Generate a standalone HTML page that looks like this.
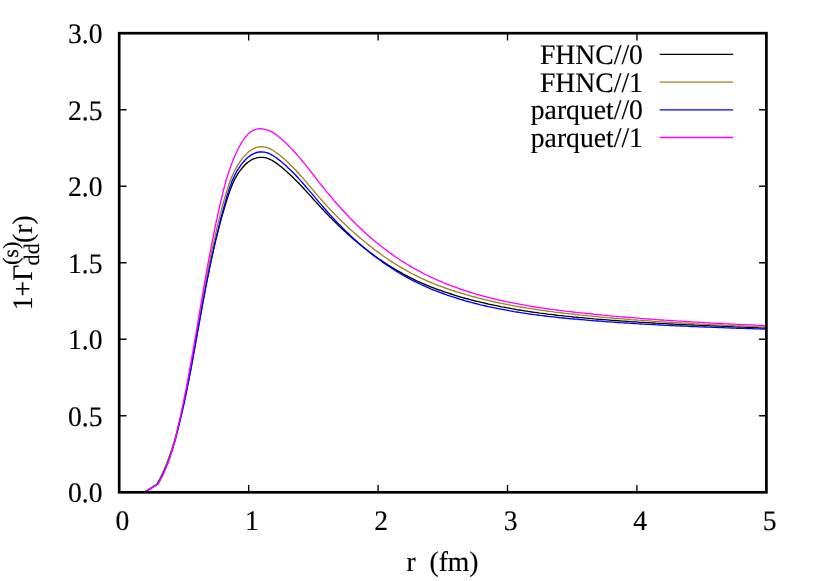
<!DOCTYPE html>
<html><head><meta charset="utf-8"><title>plot</title>
<style>html,body{margin:0;padding:0;background:#fff;overflow:hidden;}svg{display:block;text-rendering:geometricPrecision;will-change:transform;}text{font-family:"Liberation Serif", serif;font-size:27.67px;fill:#000;stroke:#000;stroke-width:0.15px;}</style></head><body>
<svg width="830" height="581" viewBox="0 0 830 581">
<rect x="0" y="0" width="830" height="581" fill="#ffffff"/>
<path d="M119.20,492.30v-7.3M119.20,33.20v7.3M248.64,492.30v-7.3M248.64,33.20v7.3M378.08,492.30v-7.3M378.08,33.20v7.3M507.52,492.30v-7.3M507.52,33.20v7.3M636.96,492.30v-7.3M636.96,33.20v7.3M766.40,492.30v-7.3M766.40,33.20v7.3M119.20,492.30h7.3M766.40,492.30h-7.3M119.20,415.78h7.3M766.40,415.78h-7.3M119.20,339.27h7.3M766.40,339.27h-7.3M119.20,262.75h7.3M766.40,262.75h-7.3M119.20,186.23h7.3M766.40,186.23h-7.3M119.20,109.72h7.3M766.40,109.72h-7.3M119.20,33.20h7.3M766.40,33.20h-7.3" stroke="#000" stroke-width="1.35" fill="none"/>
<text transform="translate(102.60,502.20) scale(1,1.022)" text-anchor="end">0.0</text>
<text transform="translate(102.60,425.68) scale(1,1.022)" text-anchor="end">0.5</text>
<text transform="translate(102.60,349.17) scale(1,1.022)" text-anchor="end">1.0</text>
<text transform="translate(102.60,272.65) scale(1,1.022)" text-anchor="end">1.5</text>
<text transform="translate(102.60,196.13) scale(1,1.022)" text-anchor="end">2.0</text>
<text transform="translate(102.60,119.62) scale(1,1.022)" text-anchor="end">2.5</text>
<text transform="translate(102.60,43.10) scale(1,1.022)" text-anchor="end">3.0</text>
<text transform="translate(122.35,529.90) scale(1,1.022)" text-anchor="middle">0</text>
<text transform="translate(251.79,529.90) scale(1,1.022)" text-anchor="middle">1</text>
<text transform="translate(381.23,529.90) scale(1,1.022)" text-anchor="middle">2</text>
<text transform="translate(510.67,529.90) scale(1,1.022)" text-anchor="middle">3</text>
<text transform="translate(640.11,529.90) scale(1,1.022)" text-anchor="middle">4</text>
<text transform="translate(769.55,529.90) scale(1,1.022)" text-anchor="middle">5</text>
<polyline points="145.1,491.8 157.1,484.2 158.3,481.9 159.6,479.6 160.7,477.3 161.9,475.0 163.0,472.6 164.0,470.2 165.1,467.9 166.1,465.5 167.0,463.1 168.0,460.6 168.9,458.2 169.7,455.8 170.6,453.3 171.4,450.9 172.2,448.4 173.0,445.9 173.7,443.4 174.5,440.9 175.2,438.5 175.9,435.9 176.6,433.4 177.2,430.9 177.9,428.4 178.5,425.9 179.2,423.4 179.8,420.8 180.4,418.3 181.0,415.8 181.6,413.3 182.2,410.7 182.7,408.2 183.3,405.7 183.9,403.1 184.4,400.6 185.0,398.1 185.5,395.5 186.0,393.0 186.6,390.4 187.1,387.9 187.6,385.4 188.1,382.8 188.6,380.3 189.1,377.7 189.6,375.2 190.1,372.6 190.6,370.1 191.0,367.5 191.5,365.0 192.0,362.4 192.4,359.9 192.9,357.3 193.4,354.8 193.8,352.2 194.3,349.7 194.7,347.1 195.2,344.5 195.6,342.0 196.1,339.4 196.5,336.9 197.0,334.3 197.4,331.8 197.9,329.2 198.3,326.7 198.8,324.1 199.3,321.5 199.7,319.0 200.2,316.4 200.6,313.9 201.1,311.3 201.5,308.8 202.0,306.2 202.5,303.7 202.9,301.1 203.4,298.5 203.9,296.0 204.4,293.4 204.8,290.9 205.3,288.3 205.8,285.8 206.3,283.2 206.8,280.7 207.3,278.1 207.8,275.6 208.4,273.0 208.9,270.5 209.4,268.0 210.0,265.4 210.5,262.9 211.1,260.3 211.6,257.8 212.2,255.3 212.8,252.7 213.3,250.2 213.9,247.7 214.5,245.1 215.1,242.6 215.7,240.1 216.4,237.6 217.0,235.1 217.6,232.5 218.3,230.0 218.9,227.5 219.6,225.0 220.3,222.5 220.9,220.0 221.6,217.5 222.3,215.0 223.1,212.5 223.8,210.0 224.5,207.5 225.3,205.1 226.0,202.6 226.8,200.1 227.6,197.6 228.4,195.2 229.2,192.7 230.0,190.3 231.0,187.9 231.9,185.5 232.9,183.1 234.0,180.8 235.2,178.4 236.5,176.2 237.8,173.9 239.3,171.7 240.9,169.6 242.6,167.5 244.4,165.5 246.3,163.6 248.3,162.0 250.5,160.5 252.7,159.2 255.1,158.3 257.5,157.6 260.1,157.3 262.7,157.3 265.2,157.7 267.6,158.4 270.0,159.4 272.3,160.5 274.5,161.9 276.7,163.4 278.8,165.0 280.9,166.6 282.9,168.3 284.9,170.0 286.9,171.7 288.8,173.5 290.7,175.2 292.6,177.0 294.4,178.9 296.3,180.7 298.1,182.6 299.9,184.4 301.6,186.3 303.4,188.2 305.2,190.1 306.9,192.0 308.6,193.9 310.4,195.9 312.1,197.8 313.8,199.7 315.6,201.6 317.3,203.5 319.0,205.4 320.8,207.4 322.6,209.3 324.3,211.1 326.1,213.0 327.9,214.9 329.7,216.8 331.6,218.6 333.4,220.5 335.3,222.3 337.1,224.1 339.0,225.9 340.9,227.7 342.8,229.5 344.7,231.3 346.6,233.0 348.5,234.8 350.5,236.5 352.4,238.2 354.4,239.9 356.4,241.6 358.4,243.3 360.4,244.9 362.4,246.5 364.4,248.2 366.5,249.8 368.5,251.3 370.6,252.9 372.7,254.4 374.8,256.0 376.9,257.5 379.0,259.0 381.2,260.4 383.3,261.9 385.5,263.3 387.7,264.7 389.9,266.1 392.1,267.5 394.3,268.8 396.5,270.1 398.7,271.4 401.0,272.7 403.3,274.0 405.5,275.2 407.8,276.4 410.1,277.6 412.5,278.7 414.8,279.9 417.1,281.0 419.5,282.1 421.9,283.1 424.2,284.1 426.6,285.2 429.0,286.1 431.4,287.1 433.9,288.0 436.3,289.0 438.7,289.9 441.2,290.7 443.7,291.6 446.1,292.4 448.6,293.2 451.1,294.0 453.6,294.8 456.1,295.6 458.5,296.3 461.0,297.1 463.5,297.8 466.0,298.5 468.6,299.1 471.1,299.8 473.6,300.5 476.1,301.1 478.6,301.7 481.1,302.3 483.7,302.9 486.2,303.5 488.7,304.1 491.3,304.6 493.8,305.2 496.3,305.7 498.9,306.2 501.4,306.8 504.0,307.2 506.5,307.7 509.1,308.2 511.6,308.7 514.2,309.1 516.7,309.6 519.3,310.0 521.8,310.4 524.4,310.8 527.0,311.2 529.5,311.6 532.1,312.0 534.7,312.3 537.2,312.7 539.8,313.1 542.4,313.4 544.9,313.7 547.5,314.1 550.1,314.4 552.7,314.7 555.3,315.0 557.8,315.3 560.4,315.6 563.0,315.9 565.6,316.2 568.2,316.4 570.7,316.7 573.3,317.0 575.9,317.2 578.5,317.5 581.1,317.7 583.7,317.9 586.3,318.2 588.8,318.4 591.4,318.6 594.0,318.9 596.6,319.1 599.2,319.3 601.8,319.5 604.4,319.7 607.0,319.9 609.6,320.1 612.1,320.3 614.7,320.5 617.3,320.7 619.9,320.9 622.5,321.1 625.1,321.2 627.7,321.4 630.3,321.6 632.9,321.8 635.4,321.9 638.0,322.1 640.6,322.3 643.2,322.4 645.8,322.6 648.4,322.7 651.0,322.9 653.6,323.0 656.2,323.2 658.8,323.3 661.4,323.5 664.0,323.6 666.5,323.7 669.1,323.9 671.7,324.0 674.3,324.1 676.9,324.3 679.5,324.4 682.1,324.5 684.7,324.6 687.3,324.8 689.9,324.9 692.5,325.0 695.1,325.1 697.7,325.2 700.3,325.4 702.8,325.5 705.4,325.6 708.0,325.7 710.6,325.8 713.2,325.9 715.8,326.0 718.4,326.1 721.0,326.2 723.6,326.3 726.2,326.4 728.8,326.6 731.4,326.7 734.0,326.8 736.6,326.9 739.2,327.0 741.8,327.1 744.3,327.2 746.9,327.3 749.5,327.4 752.1,327.5 754.7,327.6 757.3,327.7 759.9,327.8 762.5,327.9 765.1,328.0 766.4,328.0" fill="none" stroke="#000000" stroke-width="1.35" stroke-linejoin="round"/>
<polyline points="145.1,491.8 157.1,484.2 158.4,481.9 159.6,479.5 160.8,477.2 161.9,474.8 163.0,472.4 164.1,470.0 165.1,467.6 166.1,465.1 167.1,462.7 168.0,460.2 168.9,457.8 169.8,455.3 170.7,452.8 171.5,450.3 172.3,447.8 173.1,445.3 173.8,442.7 174.6,440.2 175.3,437.7 176.0,435.1 176.7,432.6 177.3,430.0 178.0,427.5 178.6,424.9 179.3,422.3 179.9,419.8 180.5,417.2 181.1,414.6 181.7,412.1 182.3,409.5 182.9,406.9 183.4,404.3 184.0,401.8 184.6,399.2 185.1,396.6 185.6,394.0 186.2,391.5 186.7,388.9 187.2,386.3 187.7,383.7 188.2,381.1 188.7,378.5 189.2,376.0 189.7,373.4 190.2,370.8 190.7,368.2 191.2,365.6 191.7,363.0 192.1,360.4 192.6,357.8 193.1,355.2 193.5,352.6 194.0,350.0 194.4,347.4 194.9,344.8 195.3,342.2 195.8,339.6 196.2,337.0 196.7,334.5 197.1,331.9 197.6,329.3 198.0,326.7 198.5,324.1 198.9,321.5 199.3,318.9 199.8,316.3 200.2,313.7 200.7,311.1 201.1,308.5 201.6,305.9 202.0,303.3 202.5,300.7 202.9,298.1 203.4,295.5 203.8,292.9 204.3,290.3 204.8,287.7 205.3,285.1 205.7,282.5 206.2,279.9 206.7,277.3 207.2,274.7 207.7,272.1 208.2,269.5 208.7,266.9 209.2,264.3 209.7,261.7 210.2,259.1 210.7,256.6 211.3,254.0 211.8,251.4 212.3,248.8 212.9,246.2 213.4,243.7 214.0,241.1 214.6,238.5 215.1,235.9 215.7,233.4 216.3,230.8 216.9,228.2 217.5,225.7 218.1,223.1 218.8,220.5 219.4,218.0 220.0,215.4 220.7,212.9 221.3,210.3 222.0,207.8 222.7,205.3 223.4,202.7 224.1,200.2 224.8,197.7 225.5,195.2 226.2,192.6 227.0,190.1 227.8,187.6 228.6,185.1 229.5,182.7 230.4,180.2 231.4,177.8 232.5,175.4 233.6,173.0 234.8,170.6 236.0,168.2 237.4,165.9 238.8,163.6 240.3,161.3 241.9,159.1 243.7,156.9 245.5,154.9 247.4,152.9 249.4,151.2 251.6,149.7 253.8,148.5 256.1,147.6 258.5,146.9 261.0,146.7 263.5,146.8 266.0,147.4 268.4,148.2 270.8,149.2 273.1,150.5 275.4,152.0 277.6,153.6 279.8,155.3 281.9,157.0 283.9,158.7 285.9,160.5 287.9,162.3 289.8,164.2 291.7,166.0 293.6,167.9 295.4,169.8 297.2,171.7 299.0,173.7 300.7,175.6 302.5,177.6 304.2,179.6 305.9,181.6 307.6,183.6 309.3,185.6 311.0,187.6 312.6,189.6 314.3,191.6 316.0,193.6 317.7,195.6 319.4,197.6 321.2,199.5 322.9,201.5 324.7,203.5 326.4,205.4 328.2,207.4 330.0,209.3 331.8,211.2 333.7,213.1 335.5,215.0 337.4,216.9 339.2,218.8 341.1,220.6 343.0,222.5 344.9,224.3 346.8,226.1 348.8,227.9 350.7,229.7 352.7,231.5 354.7,233.2 356.7,235.0 358.7,236.7 360.7,238.4 362.7,240.1 364.7,241.8 366.8,243.5 368.8,245.1 370.9,246.8 373.0,248.4 375.1,250.0 377.2,251.6 379.3,253.1 381.5,254.7 383.6,256.2 385.8,257.7 388.0,259.2 390.1,260.6 392.3,262.1 394.6,263.5 396.8,264.9 399.0,266.3 401.3,267.6 403.6,268.9 405.8,270.2 408.1,271.5 410.4,272.8 412.8,274.0 415.1,275.2 417.5,276.4 419.8,277.5 422.2,278.6 424.6,279.7 427.0,280.8 429.5,281.8 431.9,282.9 434.3,283.9 436.8,284.8 439.3,285.8 441.7,286.7 444.2,287.6 446.7,288.5 449.2,289.3 451.7,290.2 454.2,291.0 456.8,291.8 459.3,292.6 461.8,293.4 464.4,294.1 466.9,294.9 469.4,295.6 472.0,296.3 474.5,297.0 477.1,297.7 479.6,298.3 482.2,299.0 484.7,299.6 487.3,300.2 489.9,300.8 492.4,301.4 495.0,302.0 497.6,302.5 500.1,303.1 502.7,303.6 505.3,304.1 507.9,304.7 510.5,305.2 513.1,305.6 515.6,306.1 518.2,306.6 520.8,307.0 523.4,307.5 526.0,307.9 528.6,308.3 531.2,308.7 533.8,309.1 536.4,309.5 539.0,309.9 541.7,310.3 544.3,310.7 546.9,311.0 549.5,311.4 552.1,311.7 554.7,312.1 557.3,312.4 560.0,312.7 562.6,313.0 565.2,313.3 567.8,313.6 570.4,313.9 573.1,314.2 575.7,314.5 578.3,314.8 580.9,315.1 583.6,315.3 586.2,315.6 588.8,315.9 591.4,316.1 594.1,316.4 596.7,316.6 599.3,316.9 601.9,317.1 604.6,317.3 607.2,317.6 609.8,317.8 612.4,318.0 615.1,318.3 617.7,318.5 620.3,318.7 623.0,318.9 625.6,319.1 628.2,319.3 630.8,319.6 633.5,319.8 636.1,320.0 638.7,320.2 641.4,320.3 644.0,320.5 646.6,320.7 649.2,320.9 651.9,321.1 654.5,321.3 657.1,321.5 659.8,321.6 662.4,321.8 665.0,322.0 667.7,322.1 670.3,322.3 672.9,322.5 675.5,322.6 678.2,322.8 680.8,322.9 683.4,323.1 686.1,323.2 688.7,323.4 691.3,323.5 694.0,323.7 696.6,323.8 699.2,324.0 701.9,324.1 704.5,324.2 707.1,324.4 709.8,324.5 712.4,324.6 715.0,324.8 717.7,324.9 720.3,325.0 722.9,325.1 725.6,325.3 728.2,325.4 730.8,325.5 733.5,325.6 736.1,325.8 738.7,325.9 741.4,326.0 744.0,326.1 746.6,326.2 749.3,326.3 751.9,326.4 754.5,326.5 757.2,326.7 759.8,326.8 762.4,326.9 765.1,327.0 766.4,327.0" fill="none" stroke="#a08020" stroke-width="1.35" stroke-linejoin="round"/>
<polyline points="145.1,491.8 157.6,484.2 158.9,481.9 160.2,479.6 161.4,477.3 162.5,474.9 163.7,472.5 164.7,470.2 165.8,467.8 166.8,465.3 167.8,462.9 168.7,460.5 169.6,458.0 170.5,455.5 171.3,453.1 172.1,450.6 172.9,448.1 173.6,445.6 174.4,443.0 175.1,440.5 175.8,438.0 176.5,435.4 177.1,432.9 177.8,430.3 178.4,427.8 179.0,425.2 179.6,422.7 180.2,420.1 180.8,417.6 181.4,415.0 182.0,412.4 182.6,409.9 183.1,407.3 183.7,404.8 184.3,402.2 184.8,399.6 185.3,397.1 185.9,394.5 186.4,391.9 186.9,389.4 187.5,386.8 188.0,384.2 188.5,381.6 189.0,379.1 189.5,376.5 190.0,373.9 190.5,371.4 191.0,368.8 191.4,366.2 191.9,363.6 192.4,361.1 192.9,358.5 193.3,355.9 193.8,353.3 194.3,350.7 194.8,348.2 195.2,345.6 195.7,343.0 196.1,340.4 196.6,337.8 197.1,335.3 197.5,332.7 198.0,330.1 198.5,327.5 198.9,324.9 199.4,322.4 199.8,319.8 200.3,317.2 200.8,314.6 201.2,312.0 201.7,309.5 202.2,306.9 202.6,304.3 203.1,301.7 203.6,299.1 204.1,296.5 204.6,294.0 205.1,291.4 205.5,288.8 206.0,286.2 206.5,283.6 207.0,281.1 207.5,278.5 208.1,275.9 208.6,273.3 209.1,270.7 209.6,268.2 210.1,265.6 210.7,263.0 211.2,260.4 211.8,257.9 212.3,255.3 212.9,252.7 213.4,250.2 214.0,247.6 214.6,245.0 215.2,242.5 215.7,239.9 216.3,237.4 216.9,234.8 217.5,232.3 218.2,229.7 218.8,227.2 219.4,224.6 220.0,222.1 220.7,219.5 221.3,217.0 222.0,214.5 222.6,211.9 223.3,209.4 224.0,206.9 224.7,204.4 225.4,201.9 226.1,199.4 226.8,196.8 227.5,194.4 228.3,191.9 229.0,189.4 229.9,186.9 230.8,184.5 231.7,182.0 232.7,179.6 233.8,177.2 234.9,174.9 236.2,172.5 237.5,170.2 239.0,167.9 240.5,165.6 242.2,163.4 244.0,161.3 245.8,159.3 247.8,157.5 249.9,155.9 252.1,154.4 254.4,153.3 256.7,152.5 259.2,152.0 261.7,151.8 264.2,152.1 266.6,152.7 269.0,153.5 271.3,154.7 273.6,156.0 275.9,157.5 278.0,159.1 280.2,160.8 282.2,162.5 284.3,164.3 286.3,166.1 288.2,167.9 290.1,169.7 292.0,171.5 293.9,173.4 295.7,175.3 297.5,177.2 299.2,179.1 301.0,181.1 302.7,183.0 304.4,185.0 306.1,187.0 307.8,188.9 309.5,190.9 311.2,192.9 312.9,194.9 314.5,196.9 316.2,198.9 317.9,200.9 319.6,202.9 321.3,204.9 323.0,206.8 324.8,208.8 326.5,210.8 328.2,212.7 330.0,214.7 331.8,216.6 333.6,218.5 335.4,220.5 337.2,222.4 339.0,224.3 340.9,226.1 342.7,228.0 344.6,229.9 346.5,231.7 348.4,233.5 350.3,235.4 352.2,237.2 354.1,239.0 356.1,240.7 358.0,242.5 360.0,244.2 362.0,245.9 364.0,247.6 366.0,249.3 368.0,251.0 370.1,252.6 372.1,254.2 374.2,255.9 376.3,257.4 378.4,259.0 380.5,260.5 382.7,262.1 384.8,263.6 387.0,265.1 389.1,266.5 391.3,268.0 393.5,269.4 395.7,270.8 398.0,272.1 400.2,273.5 402.5,274.8 404.7,276.1 407.0,277.4 409.3,278.6 411.6,279.9 414.0,281.1 416.3,282.2 418.7,283.4 421.0,284.5 423.4,285.6 425.8,286.7 428.2,287.7 430.6,288.8 433.1,289.8 435.5,290.7 438.0,291.7 440.4,292.6 442.9,293.5 445.4,294.4 447.8,295.3 450.3,296.1 452.8,296.9 455.3,297.7 457.9,298.5 460.4,299.3 462.9,300.0 465.4,300.8 467.9,301.5 470.5,302.2 473.0,302.8 475.5,303.5 478.1,304.1 480.6,304.8 483.2,305.4 485.7,306.0 488.3,306.6 490.8,307.1 493.4,307.7 496.0,308.2 498.5,308.7 501.1,309.2 503.7,309.7 506.3,310.2 508.8,310.7 511.4,311.1 514.0,311.6 516.6,312.0 519.2,312.4 521.8,312.8 524.3,313.2 526.9,313.6 529.5,314.0 532.1,314.3 534.7,314.7 537.3,315.0 539.9,315.4 542.5,315.7 545.1,316.0 547.7,316.3 550.4,316.6 553.0,316.9 555.6,317.2 558.2,317.5 560.8,317.8 563.4,318.0 566.0,318.3 568.6,318.5 571.2,318.8 573.9,319.0 576.5,319.2 579.1,319.5 581.7,319.7 584.3,319.9 586.9,320.1 589.6,320.4 592.2,320.6 594.8,320.8 597.4,321.0 600.0,321.2 602.7,321.4 605.3,321.6 607.9,321.8 610.5,321.9 613.1,322.1 615.7,322.3 618.4,322.5 621.0,322.7 623.6,322.8 626.2,323.0 628.8,323.2 631.4,323.3 634.1,323.5 636.7,323.7 639.3,323.8 641.9,324.0 644.5,324.1 647.2,324.3 649.8,324.4 652.4,324.6 655.0,324.7 657.6,324.8 660.2,325.0 662.9,325.1 665.5,325.3 668.1,325.4 670.7,325.5 673.3,325.6 676.0,325.8 678.6,325.9 681.2,326.0 683.8,326.1 686.4,326.2 689.1,326.4 691.7,326.5 694.3,326.6 696.9,326.7 699.5,326.8 702.2,326.9 704.8,327.0 707.4,327.1 710.0,327.2 712.6,327.3 715.3,327.4 717.9,327.5 720.5,327.6 723.1,327.7 725.7,327.8 728.4,327.9 731.0,328.0 733.6,328.1 736.2,328.2 738.9,328.2 741.5,328.3 744.1,328.4 746.7,328.5 749.4,328.6 752.0,328.7 754.6,328.8 757.2,328.8 759.8,328.9 762.5,329.0 765.1,329.1 766.4,329.1" fill="none" stroke="#0000ff" stroke-width="1.35" stroke-linejoin="round"/>
<polyline points="145.1,491.8 158.0,484.2 159.4,481.8 160.6,479.4 161.9,477.0 163.1,474.6 164.2,472.1 165.3,469.6 166.3,467.1 167.3,464.6 168.3,462.1 169.2,459.6 170.1,457.0 170.9,454.4 171.7,451.8 172.5,449.3 173.2,446.7 173.9,444.0 174.6,441.4 175.3,438.8 176.0,436.1 176.6,433.5 177.2,430.9 177.8,428.2 178.4,425.6 179.0,422.9 179.6,420.3 180.2,417.6 180.8,414.9 181.3,412.3 181.9,409.6 182.4,407.0 183.0,404.3 183.5,401.7 184.1,399.0 184.6,396.3 185.1,393.7 185.6,391.0 186.2,388.4 186.7,385.7 187.2,383.0 187.7,380.4 188.2,377.7 188.7,375.0 189.1,372.4 189.6,369.7 190.1,367.0 190.6,364.4 191.1,361.7 191.5,359.0 192.0,356.4 192.5,353.7 193.0,351.0 193.4,348.4 193.9,345.7 194.3,343.0 194.8,340.4 195.3,337.7 195.7,335.0 196.2,332.3 196.6,329.7 197.1,327.0 197.5,324.3 198.0,321.7 198.4,319.0 198.9,316.3 199.3,313.6 199.8,311.0 200.2,308.3 200.7,305.6 201.2,303.0 201.6,300.3 202.1,297.6 202.5,294.9 203.0,292.3 203.4,289.6 203.9,286.9 204.4,284.2 204.8,281.6 205.3,278.9 205.8,276.2 206.3,273.5 206.7,270.9 207.2,268.2 207.7,265.5 208.2,262.9 208.7,260.2 209.2,257.5 209.7,254.8 210.2,252.2 210.7,249.5 211.2,246.8 211.7,244.2 212.2,241.5 212.8,238.9 213.3,236.2 213.8,233.5 214.4,230.9 214.9,228.2 215.5,225.6 216.0,222.9 216.6,220.3 217.2,217.6 217.7,215.0 218.3,212.3 218.9,209.7 219.5,207.1 220.1,204.4 220.7,201.8 221.3,199.2 222.0,196.5 222.6,193.9 223.2,191.3 223.9,188.7 224.6,186.1 225.3,183.4 226.0,180.8 226.8,178.3 227.5,175.7 228.4,173.1 229.2,170.5 230.1,168.0 231.0,165.4 232.0,162.9 233.0,160.3 234.0,157.8 235.1,155.3 236.3,152.8 237.5,150.3 238.8,147.8 240.1,145.3 241.5,142.9 243.0,140.5 244.5,138.2 246.2,136.1 248.0,134.1 250.0,132.4 252.1,131.0 254.4,129.8 256.9,129.1 259.6,128.7 262.5,128.8 265.2,129.3 267.8,130.1 270.3,131.1 272.7,132.4 275.0,133.9 277.2,135.5 279.3,137.2 281.4,139.0 283.4,140.8 285.4,142.6 287.4,144.5 289.3,146.4 291.2,148.4 293.0,150.3 294.9,152.3 296.7,154.3 298.4,156.4 300.2,158.4 301.9,160.5 303.6,162.6 305.3,164.7 307.0,166.8 308.7,168.9 310.4,171.1 312.1,173.2 313.7,175.3 315.4,177.5 317.1,179.6 318.7,181.8 320.4,183.9 322.1,186.0 323.8,188.1 325.5,190.3 327.2,192.4 329.0,194.5 330.7,196.5 332.5,198.6 334.2,200.7 336.0,202.7 337.8,204.8 339.6,206.8 341.4,208.8 343.3,210.8 345.1,212.8 347.0,214.8 348.8,216.8 350.7,218.7 352.6,220.7 354.5,222.6 356.4,224.5 358.4,226.4 360.3,228.3 362.3,230.1 364.3,232.0 366.3,233.8 368.3,235.6 370.4,237.4 372.4,239.1 374.5,240.9 376.6,242.6 378.7,244.3 380.8,246.0 383.0,247.7 385.1,249.3 387.3,250.9 389.5,252.5 391.7,254.1 393.9,255.7 396.1,257.2 398.4,258.7 400.6,260.2 402.9,261.7 405.2,263.1 407.5,264.5 409.8,265.9 412.1,267.3 414.5,268.6 416.9,269.9 419.3,271.2 421.7,272.5 424.1,273.8 426.5,275.0 428.9,276.2 431.4,277.3 433.9,278.5 436.3,279.6 438.8,280.7 441.3,281.7 443.9,282.8 446.4,283.8 448.9,284.8 451.4,285.8 454.0,286.7 456.6,287.7 459.1,288.6 461.7,289.5 464.3,290.3 466.8,291.2 469.4,292.0 472.0,292.8 474.6,293.6 477.2,294.3 479.8,295.1 482.4,295.8 485.0,296.5 487.6,297.2 490.2,297.9 492.9,298.5 495.5,299.2 498.1,299.8 500.8,300.4 503.4,301.0 506.1,301.6 508.7,302.1 511.4,302.7 514.0,303.2 516.7,303.7 519.3,304.2 522.0,304.7 524.7,305.2 527.3,305.7 530.0,306.1 532.7,306.5 535.4,307.0 538.0,307.4 540.7,307.8 543.4,308.2 546.1,308.6 548.8,309.0 551.5,309.3 554.1,309.7 556.8,310.0 559.5,310.4 562.2,310.7 564.9,311.1 567.6,311.4 570.3,311.7 573.0,312.0 575.7,312.3 578.4,312.6 581.1,312.9 583.8,313.2 586.5,313.5 589.2,313.7 591.9,314.0 594.6,314.3 597.3,314.5 600.0,314.8 602.7,315.1 605.4,315.3 608.1,315.6 610.8,315.8 613.5,316.1 616.2,316.3 618.9,316.6 621.6,316.8 624.3,317.0 627.0,317.3 629.7,317.5 632.4,317.7 635.1,317.9 637.8,318.1 640.5,318.4 643.2,318.6 646.0,318.8 648.7,319.0 651.4,319.2 654.1,319.4 656.8,319.6 659.5,319.8 662.2,320.0 664.9,320.2 667.6,320.3 670.3,320.5 673.0,320.7 675.7,320.9 678.4,321.1 681.1,321.2 683.8,321.4 686.5,321.6 689.2,321.7 691.9,321.9 694.6,322.1 697.3,322.2 700.0,322.4 702.7,322.5 705.4,322.7 708.1,322.8 710.9,323.0 713.6,323.1 716.3,323.3 719.0,323.4 721.7,323.5 724.4,323.7 727.1,323.8 729.8,324.0 732.5,324.1 735.2,324.2 737.9,324.3 740.6,324.5 743.4,324.6 746.1,324.7 748.8,324.8 751.5,324.9 754.2,325.1 756.9,325.2 759.6,325.3 762.3,325.4 765.1,325.5 766.4,325.6" fill="none" stroke="#ff00ff" stroke-width="1.35" stroke-linejoin="round"/>
<text transform="translate(642.90,64.00) scale(1,1.022)" text-anchor="end">FHNC//0</text>
<path d="M659.7,54.4H733.1" stroke="#000000" stroke-width="1.35" fill="none"/>
<text transform="translate(642.90,91.70) scale(1,1.022)" text-anchor="end">FHNC//1</text>
<path d="M659.7,82.1H733.1" stroke="#a08020" stroke-width="1.35" fill="none"/>
<text transform="translate(642.90,119.40) scale(1,1.022)" text-anchor="end">parquet//0</text>
<path d="M659.7,109.8H733.1" stroke="#0000ff" stroke-width="1.35" fill="none"/>
<text transform="translate(642.90,147.10) scale(1,1.022)" text-anchor="end">parquet//1</text>
<path d="M659.7,137.5H733.1" stroke="#ff00ff" stroke-width="1.35" fill="none"/>
<rect x="119.2" y="33.2" width="647.20" height="459.10" fill="none" stroke="#000" stroke-width="2.7"/>
<text transform="translate(406.40,570.70) scale(1,1.022)" text-anchor="start" xml:space="preserve">r  (fm)</text>
<g transform="translate(31.5,310.3) rotate(-90)"><text transform="translate(0.00,0.00) scale(1,1.022)" text-anchor="start">1+Γ</text><text transform="translate(45.20,-13.70) scale(1,1)" text-anchor="start" style="font-size:22.14px">(s)</text><text transform="translate(44.90,7.80) scale(1,1)" text-anchor="start" style="font-size:22.14px">dd</text><text transform="translate(67.40,0.00) scale(1,1.022)" text-anchor="start">(r)</text></g>
</svg></body></html>
